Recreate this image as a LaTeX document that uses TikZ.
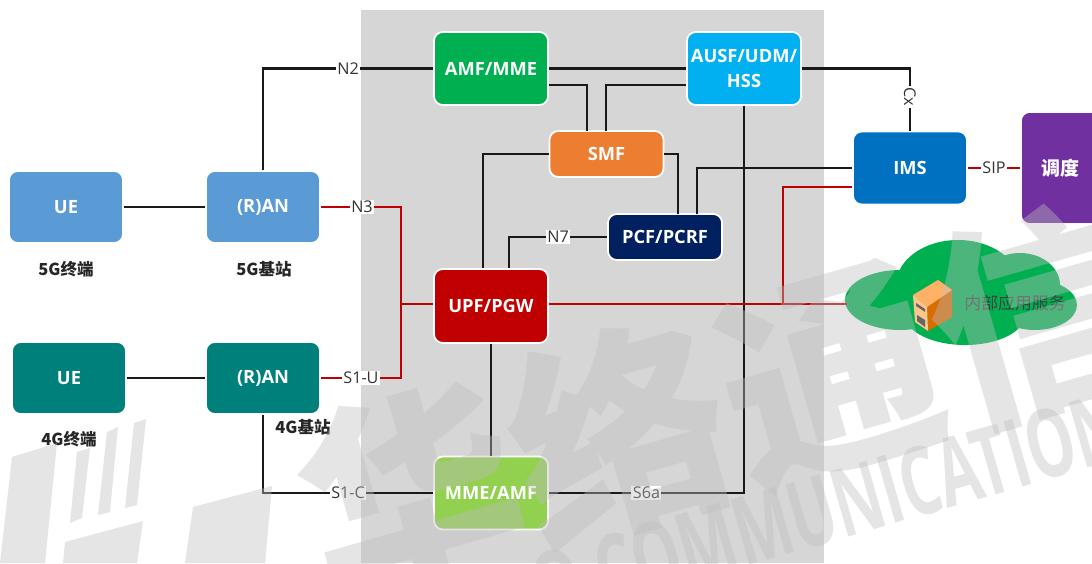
\documentclass[tikz,border=0pt]{standalone}
\usepackage{fontspec}
\setmainfont{Open Sans}
\newfontfamily\cjk{Noto Sans CJK SC}
\usepackage{xcolor}
\usepackage{tikz}
\usetikzlibrary{calc,positioning}
\definecolor{panelc}{RGB}{214,214,214}
\definecolor{markc}{RGB}{190,190,190}
\definecolor{ranc}{RGB}{91,155,213}
\definecolor{ltec}{RGB}{0,128,122}
\definecolor{amfc}{RGB}{0,176,80}
\definecolor{ausfc}{RGB}{0,176,240}
\definecolor{smfc}{RGB}{237,125,49}
\definecolor{pcfc}{RGB}{0,32,96}
\definecolor{upfc}{RGB}{192,0,0}
\definecolor{mmec}{RGB}{146,208,80}
\definecolor{imsc}{RGB}{0,112,192}
\definecolor{ddc}{RGB}{112,48,160}
\tikzset{
  ne/.style={draw=white,line width=.5pt,rounded corners=2.5pt,minimum width=1.14cm,minimum height=.73cm,
    text=white,font=\bfseries\fontsize{5.2pt}{7pt}\selectfont,align=center,inner sep=0pt},
  sig/.style={line width=.8pt,black!90},
  usr/.style={line width=.8pt,red!75!black},
  ifc/.style={fill=white,inner sep=.4pt,font=\fontsize{4.6pt}{5.5pt}\selectfont,text=black!80},
  tagtext/.style={font=\cjk\bfseries\fontsize{4.7pt}{6pt}\selectfont,text=black!85},
}
\begin{document}
\begin{tikzpicture}
  \useasboundingbox (0,0) rectangle (10.92,-5.63);
  \fill[white] (0,0) rectangle (10.92,-5.63);
  \fill[panelc] (3.61,-.1) rectangle (8.24,-5.63);
  % access side
  \node[ne,fill=ranc,minimum height=.72cm] (ue5) at (.66,-2.07) {UE};
  \node[ne,fill=ranc,minimum height=.72cm] (ran5) at (2.63,-2.07) {(R)AN};
  \node[ne,fill=ltec,minimum height=.72cm] (ue4) at (.69,-3.78) {UE};
  \node[ne,fill=ltec,minimum height=.72cm] (ran4) at (2.63,-3.78) {(R)AN};
  \node[tagtext] (tag1) at (.66,-2.69) {5G终端};
  \node[tagtext] (tag2) at (2.64,-2.69) {5G基站};
  \node[tagtext] (tag3) at (.69,-4.39) {4G终端};
  \node[tagtext] (tag4) at (3.03,-4.27) {4G基站};
  % core
  \node[ne,fill=amfc] (amf) at (4.91,-.685) {AMF/MME};
  \node[ne,fill=ausfc] (ausf) at (7.44,-.685) {AUSF/UDM/\\HSS};
  \node[ne,fill=smfc,minimum height=.46cm] (smf) at (6.065,-1.54) {SMF};
  \node[ne,fill=pcfc,minimum height=.46cm] (pcf) at (6.65,-2.37) {PCF/PCRF};
  \node[ne,fill=upfc,minimum height=.74cm] (upf) at (4.91,-3.06) {UPF/PGW};
  \node[ne,fill=mmec] (mme) at (4.91,-4.93) {MME/AMF};
  \node[ne,fill=imsc] (ims) at (9.1,-1.68) {IMS};
  \node[ne,fill=ddc,minimum width=.8cm,minimum height=1.12cm,anchor=west,font=\cjk\bfseries\fontsize{5.4pt}{7pt}\selectfont] (dd) at (10.2,-1.68) {调度};
  % cloud
  \fill[amfc] (9,-3) ellipse (.55 and .3);
  \fill[amfc] (9.58,-2.85) ellipse (.62 and .45);
  \fill[amfc] (10.2,-2.85) ellipse (.4 and .32);
  \fill[amfc] (10.35,-3.05) ellipse (.42 and .25);
  \fill[amfc] (9.65,-3.15) ellipse (.6 and .3);
  \coordinate (yunw) at (8.47,-3.04);
  \node[font=\cjk\fontsize{4.8pt}{6pt}\selectfont,text=black!75] (nb) at (10.15,-3.03) {内部应用服务};
  % server box
  \fill[orange!85!black] (9.38,-2.8) -- (9.52,-2.9) -- (9.52,-3.17) -- (9.28,-3.31) -- (9.27,-3.07) -- cycle;
  \fill[orange!60] (9.13,-2.95) -- (9.38,-2.8) -- (9.52,-2.9) -- (9.27,-3.07) -- cycle;
  \fill[orange!45] (9.13,-2.95) -- (9.27,-3.07) -- (9.28,-3.31) -- (9.15,-3.22) -- cycle;
  \fill[black!60] (9.16,-3.03) -- (9.25,-3.09) -- (9.25,-3.12) -- (9.16,-3.06) -- cycle;
  \fill[black!60] (9.17,-3.15) -- (9.25,-3.2) -- (9.25,-3.27) -- (9.17,-3.21) -- cycle;
  % connectors
  \draw[sig] (ue5) -- (ran5);
  \draw[sig] (ue4) -- (ran4);
  \draw[sig] (ran5.north) |- (amf.west) node[pos=.75,ifc] (n2) {N2};
  \draw[sig] (ran4.south) |- (mme.west) node[pos=.75,ifc] (s1c) {S1-C};
  \draw[usr] (ran5.east) -- (4.01,-2.07) |- (ran4.east) node[pos=.75,ifc] (s1u) {S1-U};
  \node[ifc] (n3) at (3.62,-2.07) {N3};
  \draw[usr] (4.01,-3.04) -- (upf.west |- 0,-3.04);
  \draw[sig] (upf) -- (mme);
  \draw[sig] (amf.east) -- (ausf.west);
  \draw[sig] (amf.east |- 0,-.85) -| (5.87,-1.31);
  \draw[sig] (ausf.west |- 0,-.85) -| (6.06,-1.31);
  \draw[sig] ($(upf.north)+(-.08,0)$) |- (smf.west);
  \draw[sig] ($(upf.north)+(.18,0)$) |- (pcf.west) node[pos=.75,ifc] (n7) {N7};
  \draw[sig] (smf.east) -| (6.78,-2.14);
  \draw[sig] (6.97,-2.14) |- (ims.west);
  \draw[sig] (ausf.south) |- (mme.east) node[pos=.75,ifc] (s6a) {S6a};
  \draw[sig] (ausf.east) -| (ims.north) node[pos=.73,ifc,rotate=-90] (cx) {Cx};
  \draw[usr] (upf.east |- 0,-3.04) -- (yunw);
  \draw[usr] (ims.west |- 0,-1.87) -| (7.83,-3.04);
  \draw[usr] (ims.east) -- (dd.west) node[midway,ifc] (sip) {SIP};
  % watermark over everything
  \begin{scope}[markc,opacity=.4]
    \node[rotate=16,font=\cjk\bfseries\fontsize{62pt}{62pt}\selectfont] (wm1) at (7.25,-4.03) {华络通信};
    \node[rotate=16,anchor=east,font=\bfseries\fontsize{27pt}{27pt}\selectfont] (wm2) at (11.33,-4.2) {\scalebox{.64}[1]{O COMMUNICATION}};
    \fill (.12,-4.57)--(.57,-4.43)--(.45,-5.63)--(0,-5.63)--cycle;
    \fill (.77,-4.52)--(.9,-4.48)--(.82,-5.18)--(.7,-5.23)--cycle;
    \fill (1.07,-4.32)--(1.18,-4.27)--(1.1,-5.12)--(.98,-5.15)--cycle;
    \fill (1.34,-4.23)--(1.46,-4.19)--(1.37,-5.05)--(1.25,-5.08)--cycle;
    \fill (.65,-5.42)--(1.43,-5.21)--(1.37,-5.63)--(.63,-5.63)--cycle;
    \fill (1.93,-5.07)--(2.72,-4.86)--(2.65,-5.63)--(1.85,-5.63)--cycle;
  \end{scope}
\end{tikzpicture}
\end{document}
